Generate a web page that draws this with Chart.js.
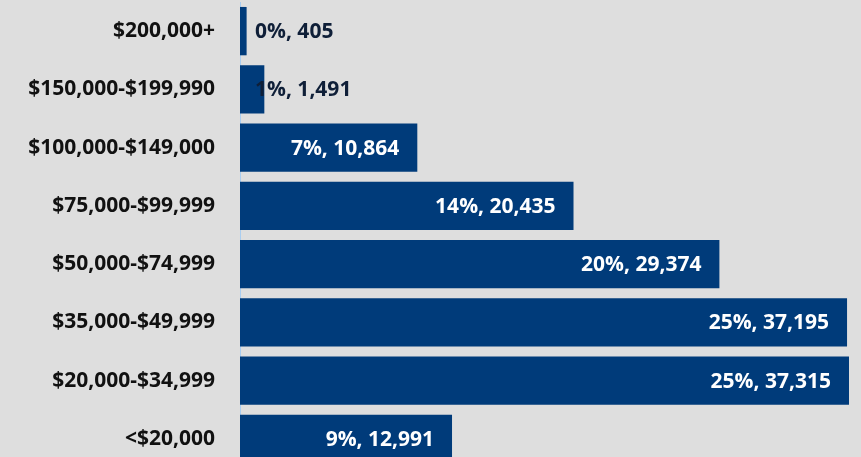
<!DOCTYPE html>
<html>
<head>
<meta charset="utf-8">
<script src="https://cdn.jsdelivr.net/npm/chart.js@4/dist/chart.umd.min.js"></script>
<style>
    html, body { margin: 0; padding: 0; background: #dedede; overflow: hidden; }
    #wrap { width: 861px; height: 457px; overflow: hidden; }
</style>
</head>
<body>
<div id="wrap"><canvas id="chart" width="861" height="468"></canvas></div>
<script>
const categories = ["$200,000+", "$150,000-$199,990", "$100,000-$149,000", "$75,000-$99,999",
    "$50,000-$74,999", "$35,000-$49,999", "$20,000-$34,999", "<$20,000"];
const households = [405, 1491, 10864, 20435, 29374, 37195, 37315, 12991];
const percents = [0, 1, 7, 14, 20, 25, 25, 9];

const FONT = "'Open Sans', 'Noto Sans', sans-serif";

// підписи значень: всередині кінця смуги, або праворуч від осі якщо не влазить
const valueLabels = {
    id: "valueLabels",
    afterDatasetsDraw(chart) {
        let ctx = chart.ctx;
        let meta = chart.getDatasetMeta(0);
        ctx.save();
        ctx.font = "bold 21px " + FONT;
        ctx.textBaseline = "middle";
        meta.data.forEach((bar, i) => {
            let text = percents[i] + "%, " + households[i].toLocaleString("en-US");
            let w = ctx.measureText(text).width;
            let right = bar.x - 18;
            if (right - w < chart.chartArea.left + 15) {
                ctx.fillStyle = "#0f1f38";
                ctx.textAlign = "left";
                ctx.fillText(text, chart.chartArea.left + 15, bar.y + 1);
            } else {
                ctx.fillStyle = "#ffffff";
                ctx.textAlign = "right";
                ctx.fillText(text, right, bar.y + 1);
            }
        });
        ctx.restore();
    }
};

new Chart(document.getElementById("chart"), {
    type: "bar",
    data: {
        labels: categories,
        datasets: [{
            data: households,
            backgroundColor: "#003b7a",
            borderWidth: 0,
            barPercentage: 0.83,
            categoryPercentage: 1
        }]
    },
    options: {
        indexAxis: "y",
        responsive: false,
        animation: false,
        layout: { padding: { top: 2, right: 0, bottom: 0, left: 0 } },
        plugins: { legend: { display: false }, tooltip: { enabled: false } },
        scales: {
            x: { display: false, min: 0, max: 38050 },
            y: {
                afterFit(scale) {
                    scale.width = 240;
                    scale.paddingTop = 0;
                    scale.paddingBottom = 0;
                },
                grid: { display: false, drawTicks: false },
                border: { display: true, color: "#a9cdf0", width: 1 },
                ticks: {
                    color: "#111111",
                    padding: 25,
                    font: { family: FONT, size: 21, weight: "bold" }
                }
            }
        }
    },
    plugins: [valueLabels]
});
</script>
</body>
</html>
